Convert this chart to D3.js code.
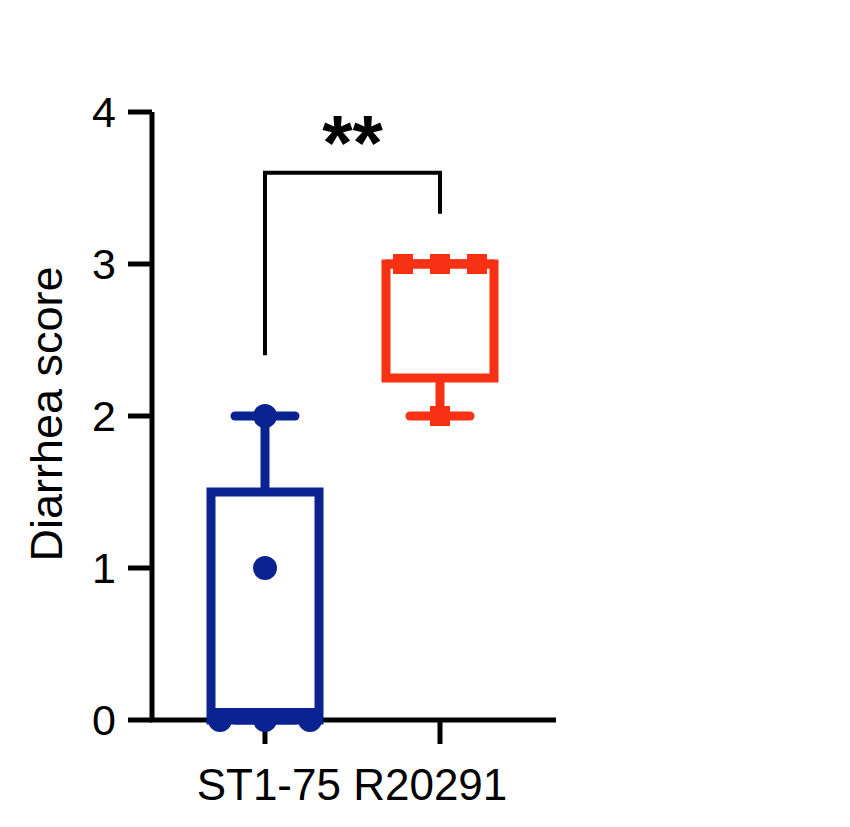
<!DOCTYPE html>
<html><head><meta charset="utf-8">
<script src="https://cdn.jsdelivr.net/npm/d3@7"></script>
<style>body{margin:0;background:#fff}</style>
</head><body><div id="chart"></div>
<script>
// data
var groups = ["ST1-75", "R20291"];
var colors = ["#0a2391", "#f73114"];
var boxes = [ {q1: 0, med: 0.05, q3: 1.5, lo: 0, hi: 2},
              {q1: 2.25, med: 3, q3: 3, lo: 2, hi: 3} ];
var points = [ [0, 0, 0, 1, 2], [3, 3, 3, 2] ];
var jitter = [ [-45, 0, 45, 0, 0], [-37, 0, 37, 0] ];
var yTicks = [0, 1, 2, 3, 4];

var w = 850, h = 827;
var font = "Liberation Sans, Arial";
var svg = d3.select("#chart").append("svg").attr("width", w).attr("height", h);
var y = d3.scaleLinear().domain([0, 4]).range([720, 112]);
var x = d3.scalePoint().domain(groups).range([265, 440]);

// axes
svg.append("line").attr("x1", 152).attr("x2", 152).attr("y1", y(4)).attr("y2", y(0) + 2)
  .attr("stroke", "#000").attr("stroke-width", 5);
svg.append("line").attr("x1", 150).attr("x2", 556).attr("y1", y(0)).attr("y2", y(0))
  .attr("stroke", "#000").attr("stroke-width", 5);
yTicks.forEach(function(t) {
  svg.append("line").attr("x1", 128).attr("x2", 152).attr("y1", y(t)).attr("y2", y(t))
    .attr("stroke", "#000").attr("stroke-width", 5);
  svg.append("text").attr("x", 116).attr("y", y(t) + 15).attr("text-anchor", "end")
    .attr("font-family", font).attr("font-size", 43).text(t);
});
groups.forEach(function(g) {
  svg.append("line").attr("x1", x(g)).attr("x2", x(g)).attr("y1", y(0)).attr("y2", y(0) + 24)
    .attr("stroke", "#000").attr("stroke-width", 5);
});
svg.append("text").attr("x", 352).attr("y", 800).attr("text-anchor", "middle")
  .attr("font-family", font).attr("font-size", 44).text(groups.join(" "));
svg.append("text").attr("transform", "translate(62," + (y(2) - 2) + ") rotate(-90)")
  .attr("text-anchor", "middle").attr("font-family", font)
  .attr("font-size", 45).text("Diarrhea score");

// boxes
var bw = 108;
boxes.forEach(function(b, i) {
  var cx = x(groups[i]), c = colors[i];
  var g = svg.append("g").attr("stroke", c).attr("stroke-width", 9).attr("fill", "none");
  g.append("line").attr("x1", cx).attr("x2", cx).attr("y1", y(b.hi)).attr("y2", y(b.q3));
  g.append("line").attr("x1", cx).attr("x2", cx).attr("y1", y(b.lo)).attr("y2", y(b.q1));
  g.append("line").attr("x1", cx - 30).attr("x2", cx + 30).attr("y1", y(b.hi)).attr("y2", y(b.hi)).attr("stroke-linecap", "round");
  g.append("line").attr("x1", cx - 30).attr("x2", cx + 30).attr("y1", y(b.lo)).attr("y2", y(b.lo)).attr("stroke-linecap", "round");
  g.append("rect").attr("x", cx - bw / 2).attr("y", y(b.q3)).attr("width", bw)
    .attr("height", y(b.q1) - y(b.q3)).attr("fill", "#fff");
  g.append("line").attr("x1", cx - bw / 2).attr("x2", cx + bw / 2).attr("y1", y(b.med)).attr("y2", y(b.med));
  points[i].forEach(function(v, j) {
    if (i === 0) {
      svg.append("circle").attr("cx", cx + jitter[i][j]).attr("cy", y(v)).attr("r", 12).attr("fill", c);
    } else {
      svg.append("rect").attr("x", cx + jitter[i][j] - 10).attr("y", y(v) - 10)
        .attr("width", 20).attr("height", 20).attr("fill", c);
    }
  });
});

// significance bracket
svg.append("path")
  .attr("d", "M" + x(groups[0]) + "," + y(2.4) + "V" + y(3.6) + "H" + x(groups[1]) + "V" + y(3.33))
  .attr("fill", "none").attr("stroke", "#000").attr("stroke-width", 4);
svg.append("text").attr("x", (x(groups[0]) + x(groups[1])) / 2).attr("y", 170)
  .attr("text-anchor", "middle").attr("font-family", font)
  .attr("font-weight", "bold").attr("font-size", 78).text("**");
</script></body></html>
